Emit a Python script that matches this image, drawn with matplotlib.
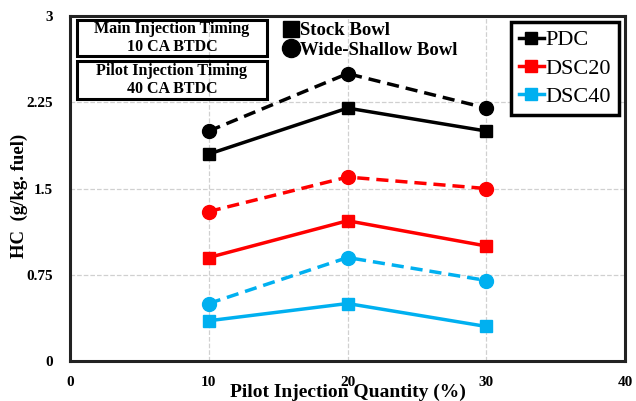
import matplotlib.pyplot as plt
from matplotlib.lines import Line2D
from matplotlib.patches import Rectangle

# pilot injection quantity (%)
quantity = [10, 20, 30]

# HC emissions (g/kg fuel), stock bowl
pdc_stock = [1.8, 2.2, 2.0]
dsc20_stock = [0.9, 1.22, 1.0]
dsc40_stock = [0.35, 0.5, 0.3]

# HC emissions (g/kg fuel), wide-shallow bowl
pdc_wide = [2.0, 2.5, 2.2]
dsc20_wide = [1.3, 1.6, 1.5]
dsc40_wide = [0.5, 0.9, 0.7]

fuels = ['PDC', 'DSC20', 'DSC40']
colors = ['black', '#ff0000', '#00b0f0']

plt.rcParams['font.family'] = ['Liberation Serif', 'DejaVu Serif']

fig = plt.figure(figsize=(6.36, 4.01), dpi=100)
ax = fig.add_axes([0.110, 0.0998, 0.873, 0.860])

stock = [pdc_stock, dsc20_stock, dsc40_stock]
wide = [pdc_wide, dsc20_wide, dsc40_wide]
for s, w, c in zip(stock, wide, colors):
    ax.plot(quantity, w, color=c, lw=2.5, ls=(0, (3.5, 2)), marker='o', ms=10, zorder=3)
    ax.plot(quantity, s, color=c, lw=2.5, marker='s', ms=9, zorder=3)

ax.set_xlim(0, 40)
ax.set_ylim(0, 3)
ax.set_xticks([0, 10, 20, 30, 40])
ax.set_yticks([0, 0.75, 1.5, 2.25, 3])
ax.set_yticklabels(['0', '0.75', '1.5', '2.25', '3'])
ax.grid(True, color='#d0d0d0', ls='--', lw=0.9)
ax.tick_params(length=0, labelsize=11, pad=12)
ax.tick_params(axis='x', pad=11)
for lab in ax.get_xticklabels() + ax.get_yticklabels():
    lab.set_fontweight('bold')
for sp in ax.spines.values():
    sp.set_linewidth(2.2)
    sp.set_color('#222222')

ax.set_xlabel('Pilot Injection Quantity (%)', fontsize=14, fontweight='bold')
ax.xaxis.set_label_coords(0.5, -0.067)
ax.set_ylabel('HC  (g/kg. fuel)', fontsize=13.5, fontweight='bold')
ax.yaxis.set_label_coords(-0.076, 0.48)

# injection timing boxes
for y0, h, txt in [(0.884, 0.104, 'Main Injection Timing\n10 CA BTDC'),
                   (0.759, 0.111, 'Pilot Injection Timing\n40 CA BTDC')]:
    ax.add_patch(Rectangle((0.0125, y0), 0.342, h, transform=ax.transAxes,
                           fill=False, lw=2.2, ec='black', zorder=4))
    ax.text(0.0125 + 0.171, y0 + h / 2, txt, transform=ax.transAxes,
            ha='center', va='center', fontsize=11.5, fontweight='bold',
            linespacing=1.15, zorder=5)

# bowl type legend
bowl_handles = [Line2D([], [], color='black', marker='s', ls='none', ms=12),
                Line2D([], [], color='black', marker='o', ls='none', ms=13)]
leg1 = ax.legend(bowl_handles, ['Stock Bowl', 'Wide-Shallow Bowl'],
                 loc='upper left', bbox_to_anchor=(0.385, 0.988), frameon=False,
                 borderaxespad=0, borderpad=0.1,
                 handlelength=0.6, handletextpad=0.15, labelspacing=0.12,
                 prop={'weight': 'bold', 'size': 13.5})
ax.add_artist(leg1)

# fuel legend
fuel_handles = [Line2D([], [], color=c, lw=2.5, marker='s', ms=8) for c in colors]
leg2 = ax.legend(fuel_handles, fuels, loc='upper right', bbox_to_anchor=(0.989, 0.983),
                 fancybox=False, edgecolor='black', framealpha=1, borderaxespad=0,
                 handlelength=1.1, handletextpad=0.1, labelspacing=0.35,
                 borderpad=0.35, prop={'size': 16})
leg2.get_frame().set_linewidth(2.5)

fig.savefig('out.png', dpi=100)
